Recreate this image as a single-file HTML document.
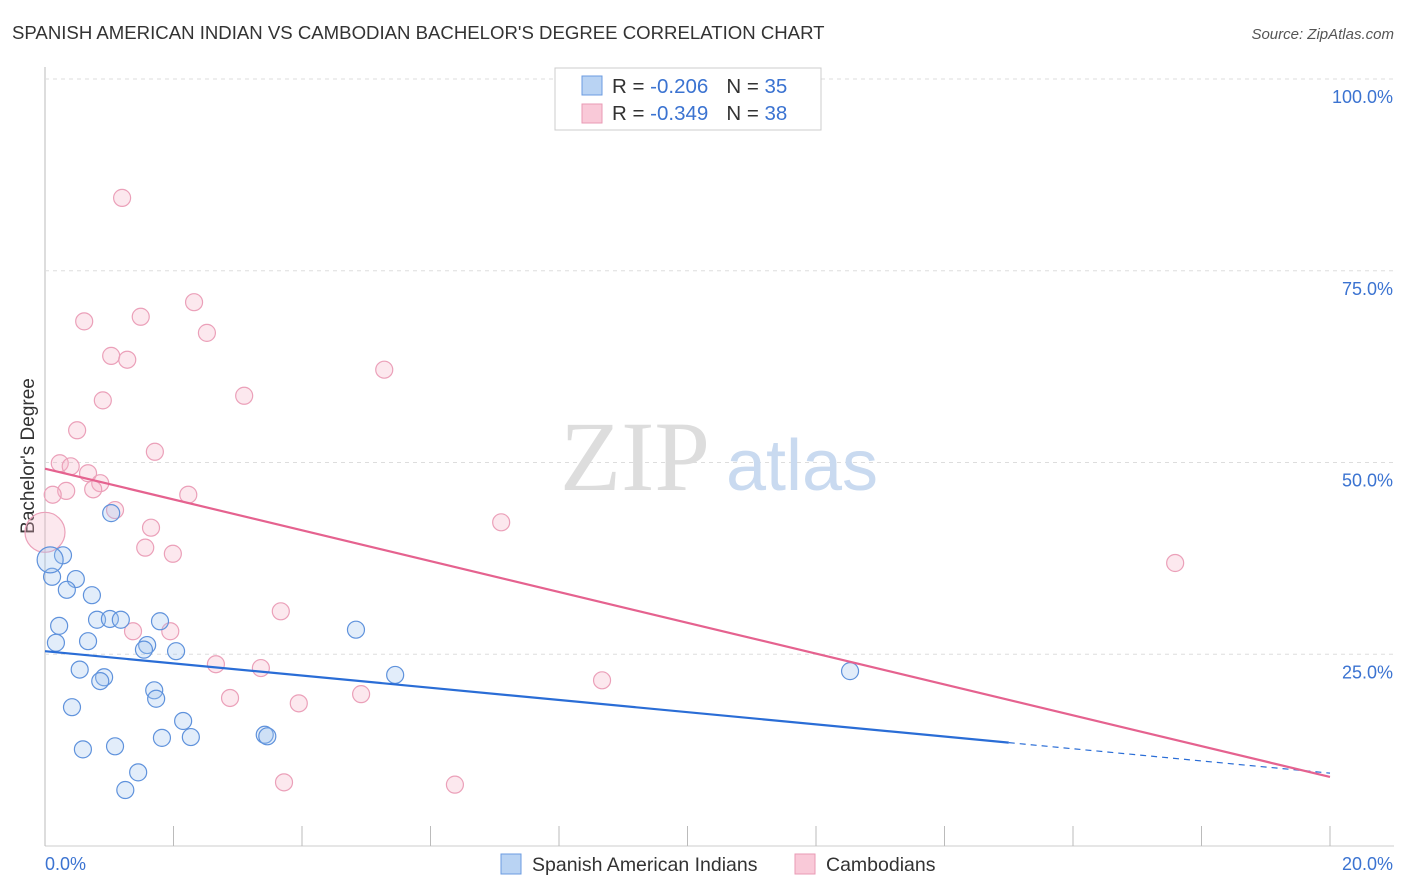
<!DOCTYPE html>
<html><head><meta charset="utf-8"><style>
body{margin:0;background:#fff;font-family:"Liberation Sans",sans-serif;}
svg{display:block}
</style></head><body>
<svg id="c" width="1406" height="892">
<text x="12" y="39" font-size="18.6" fill="#333">SPANISH AMERICAN INDIAN VS CAMBODIAN BACHELOR'S DEGREE CORRELATION CHART</text>
<text x="1394" y="39" font-size="15" fill="#555" font-style="italic" text-anchor="end">Source: ZipAtlas.com</text>
<g id="grid"></g>
<text x="635" y="490" font-size="100" fill="#ddd" text-anchor="middle" font-family="Liberation Serif,serif">ZIP</text>
<text x="802" y="490" font-size="72" fill="#c9daf0" text-anchor="middle">atlas</text>
<text x="34" y="456" font-size="19" fill="#333" text-anchor="middle" transform="rotate(-90 34 456)">Bachelor's Degree</text>
<g id="pts"></g>
<g id="lines"></g>
<g>
<rect x="555" y="68" width="266" height="62" fill="#fff" stroke="#ccc"/>
<rect x="582" y="76" width="20" height="19" fill="#b9d3f3" stroke="#6b9be0"/>
<rect x="582" y="104" width="20" height="19" fill="#f9c9d8" stroke="#e99ab4"/>
<text x="612" y="93" font-size="20.5" fill="#333">R = <tspan fill="#3b73d1">-0.206</tspan><tspan dx="18">N = </tspan><tspan fill="#3b73d1">35</tspan></text>
<text x="612" y="120" font-size="20.5" fill="#333">R = <tspan fill="#3b73d1">-0.349</tspan><tspan dx="18">N = </tspan><tspan fill="#3b73d1">38</tspan></text>
</g>
<g>
<rect x="501" y="854" width="20" height="20" fill="#b9d3f3" stroke="#6b9be0"/>
<text x="532" y="871" font-size="19.5" fill="#333">Spanish American Indians</text>
<rect x="795" y="854" width="20" height="20" fill="#f9c9d8" stroke="#e99ab4"/>
<text x="826" y="871" font-size="19.5" fill="#333">Cambodians</text>
</g>
</svg>
<script>
const xTicks=[0,20];
const yTicks=[25,50,75,100];
const blueX=[0.28,0.11,0.08,0.48,0.34,0.73,0.22,0.81,1.01,1.18,1.79,0.17,0.67,1.59,1.54,2.04,0.54,0.92,0.86,1.70,1.73,0.42,2.15,1.82,2.27,0.59,1.09,1.45,1.25,1.03,3.42,3.46,4.84,5.45,12.53];
const blueY=[37.9,35.1,37.3,34.8,33.4,32.7,28.7,29.5,29.6,29.5,29.3,26.5,26.7,26.2,25.6,25.4,23.0,22.0,21.5,20.3,19.2,18.1,16.3,14.1,14.2,12.6,13.0,9.6,7.3,43.4,14.5,14.3,28.2,22.3,22.8];
const pinkX=[1.20,2.32,0.61,1.49,2.52,1.03,1.28,5.28,0.90,3.10,0.50,1.71,0.23,0.40,0.67,0.86,0.75,0.33,0.12,2.23,1.09,1.65,0.0,7.10,1.56,1.99,17.59,3.67,1.37,1.95,2.66,3.36,2.88,3.95,4.92,8.67,3.72,6.38];
const pinkY=[84.5,70.9,68.4,69.0,66.9,63.9,63.4,62.1,58.1,58.7,54.2,51.4,49.9,49.5,48.6,47.3,46.5,46.3,45.8,45.8,43.8,41.5,40.9,42.2,38.9,38.1,36.9,30.6,28.0,28.0,23.7,23.2,19.3,18.6,19.8,21.6,8.3,8.0];
const blueTrend=[25.4,9.5];
const pinkTrend=[49.2,9.0];
const X=v=>45+v/20*1285, Y=v=>846-v/100*767;
const NS="http://www.w3.org/2000/svg";
function mk(tag,attrs,parent){const e=document.createElementNS(NS,tag);for(const k in attrs)e.setAttribute(k,attrs[k]);document.getElementById(parent).appendChild(e);return e;}
let e=mk('line',{x1:45,y1:67,x2:45,y2:846,stroke:'#bbb'},'grid');


e=mk('line',{x1:45,y1:846,x2:1394,y2:846,stroke:'#ccc'},'grid');


for(let i=0;i<=10;i++){const x=45+i*128.5;e=mk('line',{x1:x,y1:826,x2:x,y2:846,stroke:'#bbb'},'grid');

}
yTicks.forEach(t=>{e=mk('line',{x1:45,y1:Y(t),x2:1394,y2:Y(t),stroke:'#ddd','stroke-dasharray':'4,4'},'grid');


e=mk('text',{x:1393,y:Y(t)+24,'font-size':18,fill:'#3b73d1','text-anchor':'end'},'grid');e.textContent=t.toFixed(1)+'%';

});
xTicks.forEach((t,i)=>{e=mk('text',{x:i?1393:45,y:870,'font-size':18,fill:'#3b73d1','text-anchor':i?'end':'start'},'grid');e.textContent=t.toFixed(1)+'%';

});
pinkX.forEach((v,i)=>{e=mk('circle',{cx:X(v),cy:Y(pinkY[i]),r:(v===0?20:8.5),fill:'rgba(246,180,200,0.3)',stroke:'#eba0b9','stroke-width':1.2},'pts');

});
blueX.forEach((v,i)=>{e=mk('circle',{cx:X(v),cy:Y(blueY[i]),r:(i===2?13:8.5),fill:'rgba(160,196,240,0.3)',stroke:'#5f92dc','stroke-width':1.2},'pts');

});
const bAt=x=>blueTrend[0]+(blueTrend[1]-blueTrend[0])*x/20;
e=mk('line',{x1:X(0),y1:Y(bAt(0)),x2:X(15),y2:Y(bAt(15)),stroke:'#2a6dd6','stroke-width':2.2},'lines');


e=mk('line',{x1:X(15),y1:Y(bAt(15)),x2:X(20),y2:Y(bAt(20)),stroke:'#2a6dd6','stroke-width':1.2,'stroke-dasharray':'6,5'},'lines');


e=mk('line',{x1:X(0),y1:Y(pinkTrend[0]),x2:X(20),y2:Y(pinkTrend[1]),stroke:'#e5628f','stroke-width':2.2},'lines');


</script>
</body></html>
